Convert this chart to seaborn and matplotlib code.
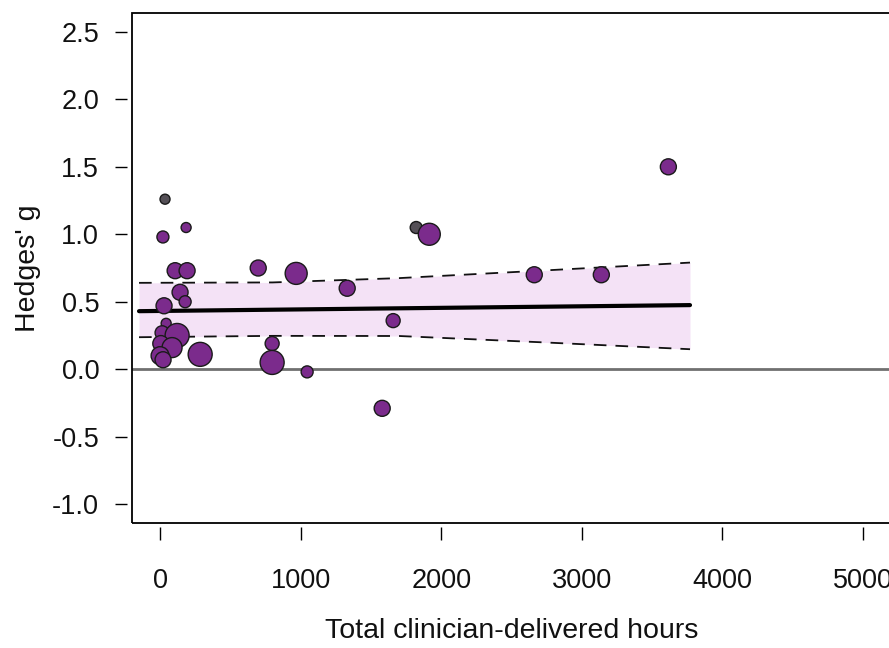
import matplotlib
matplotlib.use("Agg")
import matplotlib.pyplot as plt
from matplotlib.patches import Rectangle
import seaborn as sns
import pandas as pd

# ---- data ----
hours = [35, 20, 185, 107, 192, 142, 178, 28, 43, 14, 121, 5, 85, 0, 21, 285,
         698, 968, 797, 797, 1046, 1331, 1580, 1658, 1822, 1915, 2662, 3139, 3616]
hedges_g = [1.26, 0.98, 1.05, 0.73, 0.73, 0.57, 0.50, 0.47, 0.34, 0.27, 0.25, 0.19, 0.16, 0.10, 0.07, 0.11,
            0.75, 0.71, 0.19, 0.05, -0.02, 0.60, -0.29, 0.36, 1.05, 1.00, 0.70, 0.70, 1.50]
weight = [25, 36, 25, 64, 64, 64, 36, 64, 25, 49, 144, 64, 100, 81, 64, 144,
          64, 121, 49, 144, 36, 64, 64, 49, 36, 121, 64, 64, 64]
group = ["b", "a", "a", "a", "a", "a", "a", "a", "a", "a", "a", "a", "a", "a", "a", "a",
         "a", "a", "a", "a", "a", "a", "a", "a", "b", "a", "a", "a", "a"]

fit_x = [-150, 3770]
fit_y = [0.43, 0.475]
ci_x = [-150, 800, 1700, 2700, 3770]
ci_upper = [0.64, 0.643, 0.675, 0.73, 0.79]
ci_lower = [0.237, 0.247, 0.246, 0.20, 0.148]

x_ticks = [0, 1000, 2000, 3000, 4000, 5000]
y_ticks = [-1.0, -0.5, 0.0, 0.5, 1.0, 1.5, 2.0, 2.5]

df = pd.DataFrame({"hours": hours, "g": hedges_g, "w": weight, "group": group})

sns.set_style("white")
plt.rcParams["font.family"] = ["Liberation Sans", "DejaVu Sans"]

fig = plt.figure(figsize=(8.89, 6.48), dpi=100)
ax = fig.add_axes([132 / 889, 1 - 523 / 648, 759 / 889, (523 - 13) / 648])

ax.fill_between(ci_x, ci_lower, ci_upper, color="#F4E2F6", lw=0, zorder=1)
sns.lineplot(x=ci_x, y=ci_upper, ax=ax, color="#111111", lw=1.3, dashes=False,
             linestyle=(0, (7, 5)), zorder=2)
sns.lineplot(x=ci_x, y=ci_lower, ax=ax, color="#111111", lw=1.3, dashes=False,
             linestyle=(0, (7, 5)), zorder=2)
sns.lineplot(x=fit_x, y=fit_y, ax=ax, color="black", lw=3.0, zorder=3)
ax.axhline(0, color="#707070", lw=2.0, zorder=2.5)

wmin, wmax = min(weight), max(weight)
k = 1.44 ** 2
sns.scatterplot(data=df, x="hours", y="g", size="w", hue="group",
                palette={"a": "#7B2B8C", "b": "#555057"},
                sizes=(k * wmin, k * wmax), size_norm=(wmin, wmax),
                edgecolor="#1a1a1a", linewidth=1.0, legend=False, ax=ax, zorder=4)

ax.set_xlim(-200, 5200)
ax.set_ylim(-1.14, 2.64)
ax.set_xticks(x_ticks)
ax.set_xticklabels([str(t) for t in x_ticks])
ax.set_yticks(y_ticks)
ax.set_yticklabels([f"{t:.1f}" for t in y_ticks])

for s in ["top", "right"]:
    ax.spines[s].set_visible(False)
ax.spines["left"].set_position(("outward", 3.6))
ax.spines["bottom"].set_position(("outward", 3.0))
ax.spines["left"].set_visible(False)
ax.spines["bottom"].set_visible(False)
ax.add_patch(Rectangle((0, 0), 1, 1, transform=ax.transAxes, fill=False,
                       edgecolor="black", lw=1.3, clip_on=False, zorder=10))

ax.tick_params(axis="both", which="both", direction="out", length=9, width=1.0,
               color="black", labelsize=19.5, labelcolor="#111111")
ax.tick_params(axis="y", pad=11)
ax.tick_params(axis="x", pad=20.5)
ax.xaxis.set_ticks_position("bottom")
ax.yaxis.set_ticks_position("left")

ax.set_xlabel("Total clinician-delivered hours", fontsize=20.5, labelpad=17, color="#111111")
ax.set_ylabel("Hedges' g", fontsize=20.5, labelpad=8, color="#111111")

fig.savefig("out.png", dpi=100)
